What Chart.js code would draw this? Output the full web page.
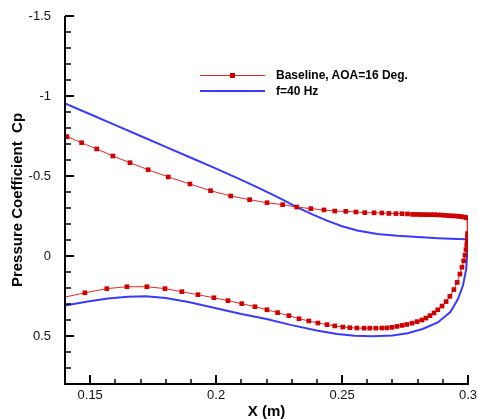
<!DOCTYPE html>
<html>
<head>
  <meta charset="UTF-8" />
  <title>Pressure Coefficient Cp</title>
  <script src="https://cdn.jsdelivr.net/npm/chart.js"></script>
  <style>
    body { margin: 0; background: #fff; font-family: Arial, "Liberation Sans", sans-serif; }
    .wrap { position: relative; width: 478px; height: 419px; }
    .legend { position: absolute; left: 200px; top: 67px; font-size: 12px; font-weight: bold; color: #000; }
    .legend .row { position: relative; height: 16px; }
    .legend .line { position: absolute; left: 0; width: 65px; }
    .legend .txt { position: absolute; left: 76px; top: 0; line-height: 16px; white-space: nowrap; }
    .legend .mark { position: absolute; left: 30px; width: 5px; height: 5px; background: #cc0000; }
  </style>
</head>
<body>
<div class="wrap">
  <canvas id="cp"></canvas>
  <div class="legend">
    <div class="row">
      <div class="line" style="top:7.5px;height:1px;background:#dd2a2a"></div>
      <div class="mark" style="top:5.5px"></div>
      <div class="txt">Baseline, AOA=16 Deg.</div>
    </div>
    <div class="row">
      <div class="line" style="top:7px;height:2px;background:#3a3aff"></div>
      <div class="txt">f=40 Hz</div>
    </div>
  </div>
</div>
<script>
// baseline, upper surface (leading -> trailing edge)
const baseUpperX = [0.1408, 0.1466, 0.1526, 0.1590, 0.1658, 0.1730, 0.1810, 0.1896, 0.1978, 0.2058, 0.2133, 0.2202,
  0.2264, 0.2320, 0.2376, 0.2428, 0.2471, 0.2515, 0.2555, 0.2590, 0.2627, 0.2658, 0.2686, 0.2714, 0.2738, 0.2760,
  0.2780, 0.2795, 0.2810, 0.2824, 0.2838, 0.2852, 0.2866, 0.2880, 0.2894, 0.2908, 0.2922, 0.2936, 0.2950, 0.2962,
  0.2974, 0.2985, 0.2993, 0.2997]
const baseUpperCp = [-0.746, -0.708, -0.669, -0.625, -0.583, -0.539, -0.494, -0.450, -0.408, -0.375, -0.352, -0.333,
  -0.321, -0.306, -0.296, -0.288, -0.281, -0.279, -0.275, -0.271, -0.270, -0.269, -0.266, -0.265, -0.264, -0.263,
  -0.260, -0.260, -0.259, -0.259, -0.258, -0.258, -0.258, -0.257, -0.256, -0.254, -0.252, -0.251, -0.250, -0.248,
  -0.246, -0.243, -0.240, -0.238]

// baseline, lower surface (leading -> trailing edge)
const baseLowerX = [0.1385, 0.1479, 0.1566, 0.1646, 0.1725, 0.1797, 0.1864, 0.1928, 0.1991, 0.2047, 0.2102, 0.2154,
  0.2202, 0.2244, 0.2289, 0.2329, 0.2368, 0.2404, 0.2440, 0.2471, 0.2503, 0.2531, 0.2559, 0.2587, 0.2610, 0.2634,
  0.2658, 0.2678, 0.2698, 0.2718, 0.2738, 0.2757, 0.2778, 0.2798, 0.2817, 0.2833, 0.2849, 0.2865, 0.2880, 0.2897,
  0.2913, 0.2928, 0.2944, 0.2957, 0.2968, 0.2976, 0.2983, 0.2988, 0.2992, 0.2995, 0.2997, 0.2998, 0.2998]
const baseLowerCp = [0.262, 0.230, 0.204, 0.192, 0.192, 0.204, 0.223, 0.242, 0.261, 0.279, 0.298, 0.317,
  0.336, 0.354, 0.373, 0.392, 0.406, 0.419, 0.429, 0.437, 0.444, 0.448, 0.450, 0.451, 0.451, 0.451,
  0.450, 0.449, 0.446, 0.440, 0.434, 0.428, 0.420, 0.410, 0.400, 0.388, 0.373, 0.356, 0.336, 0.313,
  0.285, 0.252, 0.210, 0.165, 0.113, 0.070, 0.030, -0.005, -0.040, -0.070, -0.096, -0.120, -0.140]

// f=40 Hz
const ctrlUpperX = [0.138, 0.140, 0.150, 0.160, 0.170, 0.180, 0.190, 0.200, 0.210, 0.216, 0.222, 0.227,
  0.232, 0.238, 0.244, 0.250, 0.256, 0.264, 0.272, 0.280, 0.288, 0.296, 0.2995]
const ctrlUpperCp = [-0.968, -0.954, -0.886, -0.818, -0.750, -0.682, -0.614, -0.546, -0.476, -0.432, -0.387, -0.347,
  -0.306, -0.262, -0.221, -0.186, -0.159, -0.138, -0.126, -0.118, -0.111, -0.106, -0.104]
const ctrlLowerX = [0.138, 0.140, 0.149, 0.157, 0.165, 0.172, 0.180, 0.189, 0.200, 0.210, 0.220, 0.230, 0.240,
  0.248, 0.255, 0.262, 0.270, 0.276, 0.282, 0.288, 0.293, 0.296, 0.298, 0.2993, 0.2998, 0.2999]
const ctrlLowerCp = [0.318, 0.310, 0.285, 0.266, 0.254, 0.251, 0.262, 0.288, 0.326, 0.362, 0.394, 0.432, 0.466,
  0.487, 0.498, 0.502, 0.497, 0.483, 0.456, 0.415, 0.350, 0.269, 0.185, 0.081, -0.044, -0.104]

const xTicks = [0.15, 0.2, 0.25, 0.3]
const xTickLabels = ['0.15', '0.2', '0.25', '0.3']
const yTicks = [-1.5, -1, -0.5, 0, 0.5]
const yTickLabels = ['-1.5', '-1', '-0.5', '0', '0.5']

const pts = (xs, ys) => xs.map((x, i) => ({ x: x, y: ys[i] }))
const loop = (ux, uy, lx, ly) => pts(ux, uy).concat(pts(lx, ly).reverse())

// axis lines + tecplot-style ticks pointing into the plot, with minor ticks
const innerTicks = {
  id: 'innerTicks',
  afterDatasetsDraw(chart) {
    const ctx = chart.ctx
    const area = chart.chartArea
    const xs = chart.scales.x
    const ys = chart.scales.y
    ctx.save()
    ctx.strokeStyle = '#000'
    ctx.lineWidth = 2
    ctx.beginPath()
    ctx.moveTo(area.left, area.top)
    ctx.lineTo(area.left, area.bottom)
    ctx.lineTo(area.right + 1, area.bottom)
    ctx.stroke()
    for (let k = 15; k <= 30; k++) {
      const major = k % 5 === 0
      const px = Math.round(xs.getPixelForValue(k / 100))
      ctx.lineWidth = major ? 2 : 1.5
      ctx.beginPath()
      ctx.moveTo(px, area.bottom)
      ctx.lineTo(px, area.bottom - (major ? 9 : 5))
      ctx.stroke()
    }
    for (let k = -15; k <= 7; k++) {
      const major = k % 5 === 0
      const py = Math.round(ys.getPixelForValue(k / 10))
      ctx.lineWidth = major ? 2 : 1.5
      ctx.beginPath()
      ctx.moveTo(area.left, py)
      ctx.lineTo(area.left + (major ? 9 : 6), py)
      ctx.stroke()
    }
    ctx.restore()
  }
}

new Chart(document.getElementById('cp'), {
  type: 'scatter',
  data: {
    datasets: [{
      label: 'Baseline, AOA=16 Deg.',
      data: loop(baseUpperX, baseUpperCp, baseLowerX, baseLowerCp),
      showLine: true,
      borderColor: '#dd2a2a',
      borderWidth: 1,
      pointStyle: 'rect',
      pointRadius: 3.3,
      pointBackgroundColor: '#cc0000',
      pointBorderColor: '#cc0000',
      pointBorderWidth: 0,
      clip: 0
    }, {
      label: 'f=40 Hz',
      data: loop(ctrlUpperX, ctrlUpperCp, ctrlLowerX, ctrlLowerCp),
      showLine: true,
      borderColor: '#3a3aff',
      borderWidth: 2,
      pointRadius: 0,
      clip: 0
    }]
  },
  options: {
    responsive: true,
    maintainAspectRatio: false,
    animation: false,
    events: [],
    layout: { padding: { top: 16, right: 10, left: 0, bottom: 0 } },
    plugins: { legend: { display: false }, tooltip: { enabled: false } },
    scales: {
      x: {
        type: 'linear',
        min: 0.14,
        max: 0.30,
        afterBuildTicks: (s) => { s.ticks = xTicks.map(v => ({ value: v })) },
        afterFit: (s) => { s.height = 35; s.paddingLeft = 0; s.paddingRight = 0 },
        grid: { display: false },
        border: { display: false },
        ticks: {
          autoSkip: false,
          maxRotation: 0,
          padding: -4,
          color: '#111',
          font: { family: 'Arial, "Liberation Sans"', size: 13 },
          callback: (v, i) => xTickLabels[i]
        },
        title: {
          display: true,
          text: 'X (m)',
          color: '#000',
          padding: { top: 0, bottom: 0 },
          font: { family: 'Arial, "Liberation Sans"', size: 15, weight: 'bold', lineHeight: 1 }
        }
      },
      y: {
        type: 'linear',
        reverse: true,
        min: -1.5,
        max: 0.8,
        afterBuildTicks: (s) => { s.ticks = yTicks.map(v => ({ value: v })) },
        afterFit: (s) => { s.width = 65 },
        grid: { display: false },
        border: { display: false },
        ticks: {
          autoSkip: false,
          padding: 6,
          color: '#111',
          font: { family: 'Arial, "Liberation Sans"', size: 13 },
          callback: (v, i) => yTickLabels[i]
        },
        title: {
          display: true,
          text: 'Pressure Coefficient  Cp',
          color: '#000',
          padding: { top: 9, bottom: 0 },
          font: { family: 'Arial, "Liberation Sans"', size: 15, weight: 'bold', lineHeight: 1.2 }
        }
      }
    }
  },
  plugins: [innerTicks]
})
</script>
</body>
</html>
